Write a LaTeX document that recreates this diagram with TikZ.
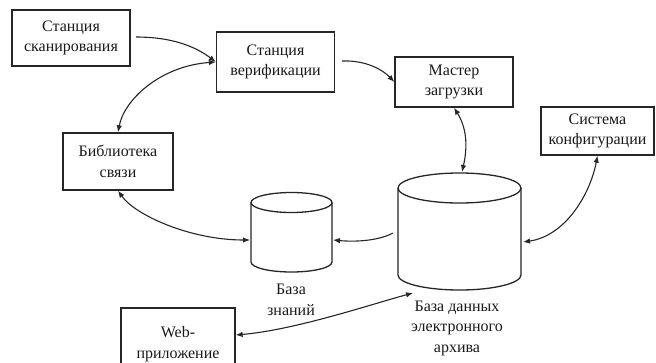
\documentclass[tikz,border=0pt]{standalone}
\usepackage{fontspec}
\setmainfont{Liberation Serif}
\usetikzlibrary{arrows.meta}
\begin{document}
\begin{tikzpicture}[x=1pt,y=-1pt,
  txt/.style={font=\fontsize{16}{20.5}\selectfont, text=black!90, align=center},
  box/.style={txt, draw=black!85, line width=1.3pt, inner sep=0pt},
  db/.style={draw=black!85, line width=1.3pt, fill=white},
  one/.style={draw=black!85, line width=1.1pt, -{Latex[length=7pt,width=5.5pt]}},
  dbl/.style={draw=black!85, line width=1.1pt, {Latex[length=7pt,width=5.5pt]}-{Latex[length=7pt,width=5.5pt]}}]
\useasboundingbox (0,0) rectangle (656,362);
\clip (0,0) rectangle (656,362);

% stations and services
\node[box, minimum width=118pt, minimum height=56pt] (scan)   at (71,38)     {Станция\\сканирования};
\node[box, minimum width=118pt, minimum height=60pt] (verif)  at (275.5,62)  {Станция\\верификации};
\node[box, minimum width=118pt, minimum height=50pt] (master) at (454,82)    {Мастер\\загрузки};
\node[box, minimum width=113pt, minimum height=48pt] (config) at (597.5,131) {Система\\конфигурации};
\node[box, minimum width=110pt, minimum height=57pt] (lib)    at (118,161.5) {Библиотека\\связи};
\node[box, minimum width=114pt, minimum height=64pt, text depth=0pt] (web) at (178,340) {\raisebox{8pt}{\begin{tabular}{@{}c@{}}Web-\\приложение\end{tabular}}};

% knowledge base cylinder
\draw[db] (251,202.5) -- (251,262) arc[start angle=180, end angle=360, x radius=40.5pt, y radius=10pt] -- (332,202.5);
\draw[db] (291.5,202.5) ellipse [x radius=40.5pt, y radius=10pt];
\node[minimum width=81pt, minimum height=80pt, inner sep=0pt] (kb) at (291.5,232.5) {};
\node[txt] (kb-label) at (291,300) {База\\знаний};

% archive database cylinder
\draw[db] (398,188) -- (398,275) arc[start angle=180, end angle=360, x radius=61.5pt, y radius=15pt] -- (521,188);
\draw[db] (459.5,188) ellipse [x radius=61.5pt, y radius=15pt];
\node[minimum width=123pt, minimum height=117pt, inner sep=0pt] (arch) at (459.5,231.5) {};
\node[txt] (arch-label) at (457,328) {База данных\\электронного\\архива};

% connector end points
\coordinate (scan-out)  at (136,37);
\coordinate (verif-out) at (342,61);
\coordinate (arch-n)    at (462,172);
\coordinate (arch-e)    at (523,242);
\coordinate (arch-w)    at (393,233);
\coordinate (arch-sw)   at (413,293);
\coordinate (kb-e)      at (333,240);
\coordinate (kb-w)      at (250,240);

% connectors
\draw[one] (scan-out) .. controls (178,37) and (200,50) .. (verif.west);
\draw[dbl] (verif.west) .. controls (160,66) and (124,100) .. (lib.north);
\draw[one] (verif-out) .. controls (366,60) and (383,70) .. (master.west);
\draw[dbl] (master.south) .. controls (468,130) and (467,150) .. (arch-n);
\draw[dbl] (config.south) .. controls (590,195) and (565,236) .. (arch-e);
\draw[one] (arch-w) .. controls (378,241) and (355,242) .. (kb-e);
\draw[dbl] (lib.south) .. controls (135,215) and (190,240) .. (kb-w);
\draw[dbl] ([yshift=5pt]web.east) .. controls (295,330) and (372,304) .. (arch-sw);
\end{tikzpicture}
\end{document}
